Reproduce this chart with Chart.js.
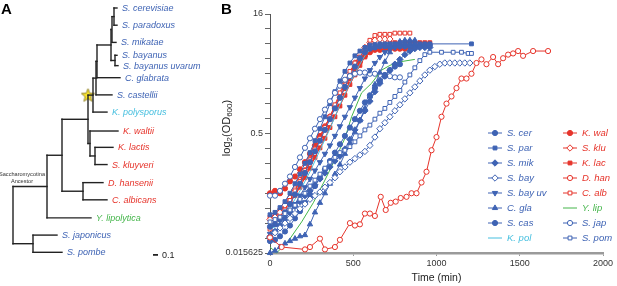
<!DOCTYPE html>
<html><head><meta charset="utf-8">
<script src="https://cdn.jsdelivr.net/npm/chart.js@4.4.1/dist/chart.umd.min.js"></script>
<style>
html,body{margin:0;padding:0;background:#fff;}
#wrap{position:relative;width:617px;height:286px;overflow:hidden;background:#fff;}
#tree{position:absolute;left:0;top:0;}
#growth{position:absolute;left:210px;top:0;}
</style></head><body>
<div id="wrap">
  <canvas id="tree" width="210" height="286"></canvas>
  <canvas id="growth" width="407" height="286"></canvas>
</div>
<script>
const FONT = '"Liberation Sans", Arial, Helvetica, sans-serif';
const BLUE = '#3e63b4', RED = '#e6342b', GREEN = '#44b54a', CYAN = '#46bfdf';

// ---- panel A: tree ----
const LEAF_NAMES = ['S. cerevisiae', 'S. paradoxus', 'S. mikatae', 'S. bayanus', 'S. bayanus uvarum',
  'C. glabrata', 'S. castellii', 'K. polysporus', 'K. waltii', 'K. lactis', 'S. kluyveri',
  'D. hansenii', 'C. albicans', 'Y. lipolytica', 'S. japonicus', 'S. pombe'];
const LEAF_GROUP = ['b','b','b','b','b','b','b','c','r','r','r','r','r','g','b','b'];
const LEAF_DEPTH = [2.08, 2.08, 2.06, 2.08, 2.10, 2.14, 1.98, 1.88, 2.10, 2.00, 1.88, 1.80, 1.88, 1.56, 0.88, 0.98];
const LEAF_ROW = [0, 1, 2, 2.75, 3.35, 4.05, 5.05, 6.05, 7.15, 8.1, 9.1, 10.15, 11.15, 12.2, 13.2, 14.2];
// internal nodes, numbered 16.. in this order
const NODE_KIDS = [[0,1],[16,2],[3,4],[17,18],[19,5],[20,6],[21,7],[9,10],[8,23],[22,24],[11,12],[25,26],[27,13],[14,15],[28,29]];
const NODE_DEPTH = [2.02, 1.98, 2.04, 1.96, 1.68, 1.66, 1.60, 1.64, 1.54, 1.50, 1.40, 0.98, 0.68, 0.40, 0];
const STAR_NODE = 22;   // WGD star sits where this node's branch starts
const SCALE_BAR = 0.1;

// ---- panel B: growth curves (log2 OD600) ----
const T = [0,30,60,90,120,150,180,210,240,270,300,330,360,390,420,450,480,510,540,570,600,630,660,690,720,750,780,810,840,870,900,930,960,990,1020,1050,1080,1110,1140,1170,1200];
const S_CER = [-4.9,-4.8,-4.6,-4.3,-3.95,-3.55,-3.1,-2.65,-2.2,-1.75,-1.3,-0.85,-0.4,0.05,0.5,0.95,1.4,1.8,2.15,2.4,2.55,2.6,2.65,2.65,2.65,2.65,2.65,2.65,2.65,2.65,2.65,2.65,2.7];
const S_PAR_T = [0,30,60,90,120,150,180,210,240,270,300,330,360,390,420,450,480,510,540,570,600,630,660,690,720,750,780,810,840,870,900,930,960,1210];
const S_PAR = [-4.4,-4.3,-4.1,-3.85,-3.5,-3.1,-2.7,-2.25,-1.8,-1.3,-0.8,-0.3,0.25,0.75,1.2,1.6,1.95,2.25,2.45,2.6,2.7,2.72,2.75,2.75,2.75,2.75,2.75,2.75,2.75,2.75,2.75,2.75,2.75,2.75];
const S_MIK = [-5.3,-5.1,-4.85,-4.55,-4.3,-4.05,-3.85,-3.6,-3.4,-3.15,-2.9,-2.65,-2.4,-2.15,-1.95,-1.65,-1.25,-0.85,-0.45,-0.05,0.35,0.75,1.1,1.4,1.65,1.9,2.1,2.3,2.45,2.55,2.6,2.6,2.6];
const S_BAY = [-5.35,-5.15,-4.95,-4.75,-4.55,-4.35,-4.15,-3.95,-3.75,-3.6,-3.45,-3.25,-3.05,-2.85,-2.6,-2.4,-2.2,-2.05,-1.9,-1.75,-1.5,-1.15,-0.8,-0.55,-0.3,-0.05,0.2,0.45,0.7,0.95,1.2,1.45,1.65,1.8,1.9,1.95,1.95,1.95,1.95,1.95,1.95];
const S_BAY_UV = [-5.2,-5.1,-4.9,-4.6,-4.3,-3.95,-3.6,-3.25,-2.9,-2.55,-2.2,-1.85,-1.5,-1.1,-0.7,-0.3,0.1,0.5,0.9,1.3,1.65,1.95,2.2,2.4,2.55,2.6,2.65,2.65,2.65,2.65,2.65,2.65];
const C_GLA = [-6.0,-5.9,-5.75,-5.6,-5.5,-5.4,-5.3,-5.25,-4.8,-4.3,-3.9,-3.5,-3.1,-2.7,-2.3,-1.85,-1.4,-0.95,-0.45,0.05,0.55,1.05,1.55,2.0,2.4,2.7,2.85,2.9,2.9,2.9];
const S_CAS = [-5.5,-5.45,-5.3,-5.1,-4.85,-4.55,-4.25,-3.9,-3.55,-3.2,-2.85,-2.5,-2.15,-1.8,-1.45,-1.1,-0.75,-0.4,-0.05,0.3,0.6,0.9,1.2,1.45,1.65,1.8,1.9];
const K_POL = [-5.0,-4.9,-4.7,-4.4,-4.1,-3.75,-3.4,-3.0,-2.6,-2.15,-1.7,-1.25,-0.8,-0.3,0.2,0.65,1.1,1.5,1.9,2.25,2.5,2.65,2.75,2.8,2.8,2.8,2.8];
const K_WAL = [-3.5,-3.4,-3.5,-3.3,-3.0,-2.8,-2.5,-2.2,-1.85,-1.5,-1.1,-0.7,-0.3,0.1,0.5,0.9,1.3,1.7,2.0,2.25,2.4,2.5,2.5,2.55,2.55,2.55,2.55,2.55,2.6,2.6];
const S_KLU = [-4.6,-4.5,-4.3,-4.0,-3.7,-3.35,-2.95,-2.55,-2.1,-1.65,-1.2,-0.75,-0.3,0.15,0.6,1.05,1.5,1.95,2.3,2.6,2.8,2.9,2.95,2.95,2.95];
const K_LAC = [-4.5,-4.4,-4.2,-4.0,-3.8,-3.6,-3.25,-2.85,-2.45,-2.0,-1.6,-1.2,-0.75,-0.3,0.15,0.6,1.05,1.45,1.85,2.2,2.45,2.6,2.7,2.75,2.8,2.8,2.8,2.8,2.8,2.8,2.8,2.8,2.8];
const D_HAN_T = [0,70,210,240,300,330,390,420,480,510,540,570,600,630,665,695,725,755,785,820,850,880,910,940,970,1000,1030,1060,1090,1120,1150,1180,1210,1240,1270,1300,1340,1370,1400,1430,1460,1490,1520,1580,1670];
const D_HAN = [-5.35,-5.75,-5.85,-5.75,-5.4,-5.85,-5.75,-5.45,-4.75,-4.85,-4.8,-4.35,-4.35,-4.45,-3.65,-4.2,-3.9,-3.85,-3.7,-3.65,-3.5,-3.5,-3.05,-2.6,-1.7,-1.15,-0.3,0.25,0.55,0.9,1.3,1.3,1.5,1.95,2.1,1.9,2.2,1.9,2.15,2.3,2.35,2.45,2.25,2.45,2.45];
const C_ALB = [-5.0,-4.8,-4.5,-4.2,-3.8,-3.4,-3.0,-2.55,-2.1,-1.65,-1.2,-0.75,-0.3,0.2,0.7,1.2,1.6,1.95,2.2,2.5,2.9,3.1,3.15,3.15,3.15,3.2,3.2,3.2,3.2];
const Y_LIP_T = [0,40,120,190,260,330,400,450,490,550,610,670,720,780,870];
const Y_LIP = [-5.75,-6.0,-5.4,-4.7,-3.9,-2.95,-1.95,-1.2,-0.3,0.7,1.1,1.65,1.85,2.0,2.1];
const S_JAP = [-3.6,-3.6,-3.4,-3.1,-2.8,-2.4,-2.0,-1.6,-1.2,-0.8,-0.4,0.0,0.35,0.7,1.0,1.25,1.4,1.5,1.55,1.55,1.5,1.5,1.45,1.4,1.4,1.35,1.35];
const S_POM_T = [0,30,60,90,120,150,180,210,240,270,300,330,360,390,420,450,480,510,540,570,600,630,660,690,720,750,780,810,840,870,900,930,960,1030,1100,1150,1190,1210];
const S_POM = [-4.7,-4.6,-4.5,-4.35,-4.2,-4.0,-3.75,-3.5,-3.2,-2.95,-2.7,-2.45,-2.2,-2.0,-1.8,-1.7,-1.55,-1.35,-1.1,-0.85,-0.65,-0.4,-0.15,0.05,0.3,0.55,0.8,1.15,1.45,1.75,2.05,2.3,2.4,2.4,2.4,2.4,2.35,2.35];

const X_TICK_STEP = 500;
const Y_MINOR = [-6,-5.375,-4.75,-4.125,-3.5,-2.875,-2.25,-1.625,-1,-0.375,0.25,0.875,1.5,2.125,2.75,3.375,4];
const Y_LABELED = [-6, -1, 4];

// drawing order (later = on top)
const SERIES = [
  ['D. han', D_HAN_T, D_HAN], ['S. bay', T, S_BAY], ['S. pom', S_POM_T, S_POM],
  ['S. cas', T, S_CAS], ['S. mik', T, S_MIK], ['S. bay uv', T, S_BAY_UV], ['C. gla', T, C_GLA],
  ['Y. lip', Y_LIP_T, Y_LIP], ['S. jap', T, S_JAP], ['S. cer', T, S_CER], ['S. par', S_PAR_T, S_PAR],
  ['K. pol', T, K_POL], ['C. alb', T, C_ALB], ['S. klu', T, S_KLU], ['K. wal', T, K_WAL], ['K. lac', T, K_LAC]
];
const LEGEND_COLS = [
  ['S. cer', 'S. par', 'S. mik', 'S. bay', 'S. bay uv', 'C. gla', 'S. cas', 'K. pol'],
  ['K. wal', 'S. klu', 'K. lac', 'D. han', 'C. alb', 'Y. lip', 'S. jap', 'S. pom']
];

const STYLE = {
  'S. cer':    { color: BLUE,  shape: 'circle',   open: false },
  'S. par':    { color: BLUE,  shape: 'rect',     open: false },
  'S. mik':    { color: BLUE,  shape: 'rectRot',  open: false },
  'S. bay':    { color: BLUE,  shape: 'rectRot',  open: true },
  'S. bay uv': { color: BLUE,  shape: 'triangle', open: false, rot: 180 },
  'C. gla':    { color: BLUE,  shape: 'triangle', open: false },
  'S. cas':    { color: BLUE,  shape: 'circle',   open: false },
  'K. pol':    { color: CYAN,  shape: null },
  'K. wal':    { color: RED,   shape: 'circle',   open: false },
  'S. klu':    { color: RED,   shape: 'rectRot',  open: true },
  'K. lac':    { color: RED,   shape: 'rect',     open: false },
  'D. han':    { color: RED,   shape: 'circle',   open: true },
  'C. alb':    { color: RED,   shape: 'rect',     open: true },
  'Y. lip':    { color: GREEN, shape: null },
  'S. jap':    { color: BLUE,  shape: 'circle',   open: true },
  'S. pom':    { color: BLUE,  shape: 'rect',     open: true },
};
const RADIUS = { circle: 2.6, rect: 2.7, rectRot: 3.2, triangle: 3.1 };
const GROUP_COLOR = { b: BLUE, r: RED, g: GREEN, c: CYAN };

// ---------- tree chart ----------
const nodeRow = LEAF_ROW.slice();
const nodeDepth = LEAF_DEPTH.slice();
const parentOf = {};
NODE_KIDS.forEach((kids, k) => {
  const id = LEAF_ROW.length + k;
  nodeDepth[id] = NODE_DEPTH[k];
  nodeRow[id] = (nodeRow[kids[0]] + nodeRow[kids[1]]) / 2;
  kids.forEach(c => parentOf[c] = id);
});

const treeSets = [];
NODE_KIDS.forEach((kids, k) => {
  const id = LEAF_ROW.length + k;
  const d = nodeDepth[id];
  const seg = [[{ x: d, y: nodeRow[kids[0]] }, { x: d, y: nodeRow[kids[1]] }]];
  kids.forEach(c => seg.push([{ x: d, y: nodeRow[c] }, { x: nodeDepth[c], y: nodeRow[c] }]));
  seg.forEach(s => treeSets.push({
    data: s, showLine: true, borderColor: '#222', borderWidth: 1.4,
    borderCapStyle: 'square', pointRadius: 0, clip: false
  }));
});

const SB_DEPTH = 2.8, SB_ROW = 14.35;
treeSets.push({
  data: [{ x: SB_DEPTH, y: SB_ROW }, { x: SB_DEPTH + SCALE_BAR, y: SB_ROW }],
  showLine: true, borderColor: '#222', borderWidth: 1.8, pointRadius: 0, clip: false
});

// yellow star marker
const starImg = document.createElement('canvas');
starImg.width = 15; starImg.height = 15;
(() => {
  const c = starImg.getContext('2d');
  c.beginPath();
  for (let i = 0; i < 10; i++) {
    const r = i % 2 ? 3.0 : 7.0;
    const a = -Math.PI / 2 + i * Math.PI / 5;
    c.lineTo(7.5 + r * Math.cos(a), 8 + r * Math.sin(a));
  }
  c.closePath();
  c.fillStyle = '#fbe62e'; c.fill();
  c.strokeStyle = '#7d6d18'; c.lineWidth = 0.8; c.stroke();
})();
treeSets.push({
  data: [{ x: nodeDepth[parentOf[STAR_NODE]], y: nodeRow[STAR_NODE] }],
  pointStyle: starImg, pointRadius: 7, showLine: false, clip: false
});

const treeText = {
  id: 'treeText',
  afterDraw(chart) {
    const { ctx } = chart;
    const xs = chart.scales.x, ys = chart.scales.y;
    ctx.save();
    ctx.textBaseline = 'middle';
    ctx.font = 'italic 9px ' + FONT;
    LEAF_NAMES.forEach((n, i) => {
      ctx.fillStyle = GROUP_COLOR[LEAF_GROUP[i]];
      ctx.fillText(n, xs.getPixelForValue(LEAF_DEPTH[i]) + 5, ys.getPixelForValue(LEAF_ROW[i]) + 0.5);
    });
    // ancestor label near the Saccharomycotina node
    const root = nodeDepth.length - 1, anc = NODE_KIDS[NODE_KIDS.length - 1][0];
    const ax = xs.getPixelForValue(nodeDepth[root]) + 9, ay = ys.getPixelForValue(nodeRow[anc]);
    ctx.font = '5.6px ' + FONT;
    ctx.fillStyle = '#333';
    ctx.textAlign = 'center';
    ctx.fillText('Saccharomycotina', ax, ay - 12);
    ctx.fillText('Ancestor', ax, ay - 5.5);
    // scale bar label
    ctx.textAlign = 'left';
    ctx.font = '9px ' + FONT;
    ctx.fillStyle = '#222';
    ctx.fillText(String(SCALE_BAR), xs.getPixelForValue(SB_DEPTH + SCALE_BAR) + 4, ys.getPixelForValue(SB_ROW) + 0.5);
    // panel letter
    ctx.font = 'bold 15px ' + FONT;
    ctx.fillStyle = '#000';
    ctx.textBaseline = 'top';
    ctx.fillText('A', 1, 2);
    ctx.restore();
  }
};

new Chart(document.getElementById('tree'), {
  type: 'scatter',
  data: { datasets: treeSets },
  options: {
    responsive: false, animation: false, events: [],
    layout: { padding: { left: 13, right: 87, top: 5, bottom: 33.7 } },
    plugins: { legend: { display: false }, tooltip: { enabled: false } },
    scales: {
      x: { type: 'linear', display: false, min: 0, max: 2.2 },
      y: { type: 'linear', display: false, min: 0, max: 14.2, reverse: true }
    }
  },
  plugins: [treeText]
});

// ---------- growth chart ----------
const growthSets = SERIES.map(([name, t, v]) => {
  const st = STYLE[name];
  return {
    label: name,
    data: v.map((y, i) => ({ x: t[i], y })),
    showLine: true,
    borderColor: st.color,
    borderWidth: 1,
    pointStyle: st.shape || 'circle',
    pointRadius: st.shape ? RADIUS[st.shape] : 0,
    pointRotation: st.rot || 0,
    pointBackgroundColor: st.open ? '#fff' : st.color,
    pointBorderColor: st.color,
    pointBorderWidth: 1,
    clip: false
  };
});

const extras = {
  id: 'extras',
  afterDraw(chart) {
    const { ctx } = chart;
    ctx.save();
    // legend, two columns
    const colX = [278, 353];
    LEGEND_COLS.forEach((col, c) => {
      col.forEach((name, r) => {
        const st = STYLE[name];
        const x0 = colX[c], y = 133 + 15 * r;
        ctx.strokeStyle = st.color; ctx.lineWidth = 1;
        ctx.beginPath(); ctx.moveTo(x0, y); ctx.lineTo(x0 + 14, y); ctx.stroke();
        if (st.shape) {
          ctx.fillStyle = st.open ? '#fff' : st.color;
          Chart.helpers.drawPoint(ctx, {
            pointStyle: st.shape, rotation: st.rot || 0, radius: RADIUS[st.shape], borderWidth: 1
          }, x0 + 7, y);
        }
        ctx.fillStyle = st.color;
        ctx.font = 'italic 9.5px ' + FONT;
        ctx.textBaseline = 'middle';
        ctx.fillText(name, x0 + 19, y + 0.5);
      });
    });
    // y title with subscripts: log2(OD600)
    const parts = [['log', 11, 0], ['2', 8, 3], ['(OD', 11, 0], ['600', 8, 3], [')', 11, 0]];
    let w = 0;
    parts.forEach(([s, f]) => { ctx.font = f + 'px ' + FONT; w += ctx.measureText(s).width; });
    ctx.translate(17, 128);
    ctx.rotate(-Math.PI / 2);
    ctx.fillStyle = '#222';
    ctx.textBaseline = 'middle';
    let x = -w / 2;
    parts.forEach(([s, f, dy]) => {
      ctx.font = f + 'px ' + FONT;
      ctx.fillText(s, x, dy);
      x += ctx.measureText(s).width;
    });
    ctx.setTransform(1, 0, 0, 1, 0, 0);
    ctx.font = 'bold 15px ' + FONT;
    ctx.fillStyle = '#000';
    ctx.textBaseline = 'top';
    ctx.fillText('B', 11, 2);
    ctx.restore();
  }
};

new Chart(document.getElementById('growth'), {
  type: 'scatter',
  data: { datasets: growthSets },
  options: {
    responsive: false, animation: false, events: [],
    layout: { padding: { left: 0, right: 14, top: 14, bottom: 0 } },
    plugins: { legend: { display: false }, tooltip: { enabled: false } },
    scales: {
      x: {
        type: 'linear', min: 0, max: 2000,
        ticks: {
          stepSize: X_TICK_STEP, maxRotation: 0, padding: 2, color: '#333',
          font: { family: FONT, size: 9 }, callback: v => String(v)
        },
        grid: { drawOnChartArea: false, tickLength: 3, color: '#999' },
        border: { color: '#9a9a9a', width: 2.5 },
        title: { display: true, text: 'Time (min)', color: '#222', font: { family: FONT, size: 10.5 }, padding: { top: 0, bottom: 2 } },
        afterFit: s => { s.height = 33; }
      },
      y: {
        type: 'linear', min: -6, max: 4,
        afterBuildTicks: s => { s.ticks = Y_MINOR.map(v => ({ value: v })); },
        ticks: {
          autoSkip: false, padding: 2, color: '#333', font: { family: FONT, size: 9 },
          callback: v => Y_LABELED.some(l => Math.abs(l - v) < 1e-6) ? String(2 ** v) : ''
        },
        grid: { drawOnChartArea: false, tickLength: 5, color: '#666' },
        border: { color: '#555', width: 1 },
        afterFit: s => { s.height; s.width = 60; }
      }
    }
  },
  plugins: [extras]
});
</script>
</body></html>
